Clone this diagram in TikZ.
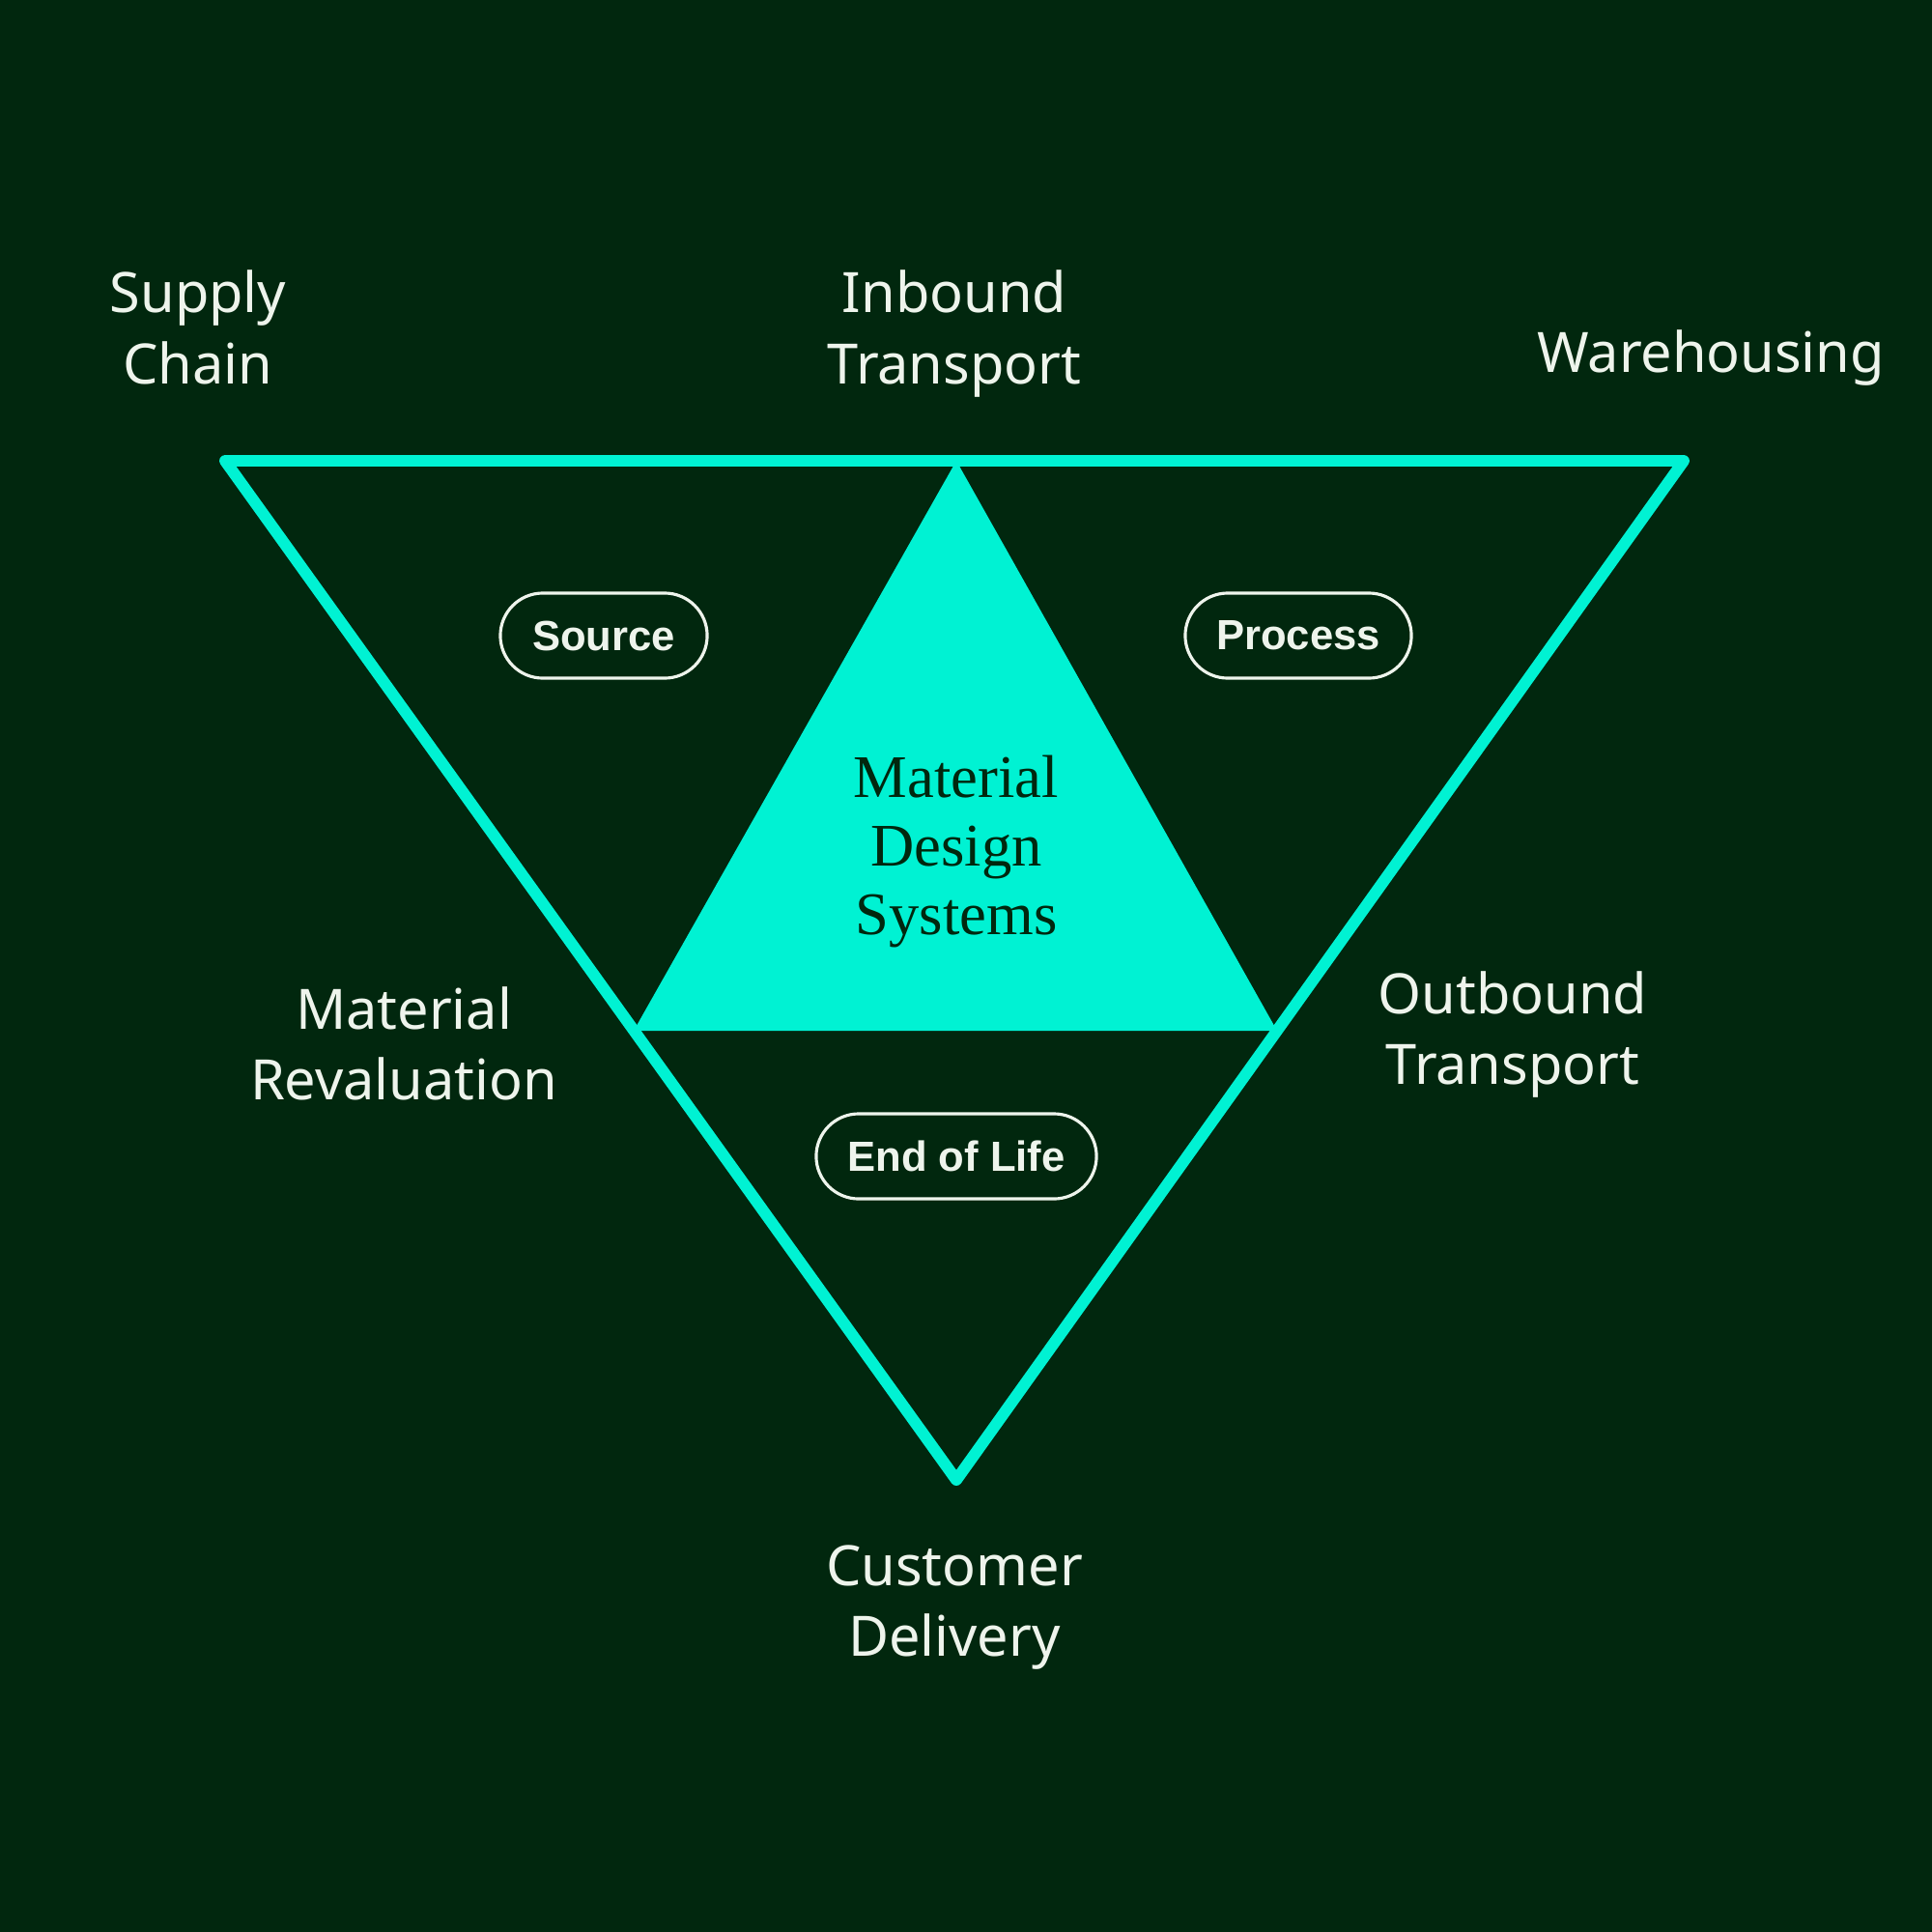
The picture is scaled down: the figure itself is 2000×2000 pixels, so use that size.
\documentclass[tikz,border=0pt]{standalone}
\usepackage{fontspec}
\setmainfont{Liberation Serif}
\newfontfamily\lblfont{Noto Sans}
\newfontfamily\pillfont{Liberation Sans}
\usetikzlibrary{shapes.misc}
\definecolor{bg}{HTML}{01270E}
\definecolor{mint}{HTML}{00F2D3}
\definecolor{txt}{HTML}{EEF4EC}
\tikzset{
  lbl/.style={font=\lblfont\fontsize{16.4}{20}\selectfont, text=txt, anchor=base, inner sep=0pt},
  pill/.style={rounded rectangle, draw=txt, line width=0.9pt, text=txt,
    font=\pillfont\bfseries\fontsize{12.4}{14}\selectfont, minimum height=0.88cm, inner sep=0pt},
  core/.style={font=\fontsize{17.8}{20}\selectfont, text=bg, anchor=base, inner sep=0pt},
  edge/.style={draw=mint, line width=3.4pt, line join=round, line cap=round}
}
\begin{document}
\begin{tikzpicture}[x=0.01cm,y=-0.01cm]
\fill[bg] (0,0) rectangle (2000,2000);
\useasboundingbox (0,0) rectangle (2000,2000);
% vertices
\coordinate (tl) at (233,477);
\coordinate (tr) at (1743,477);
\coordinate (bt) at (990,1532);
\coordinate (ap) at (990,477);
\coordinate (il) at (656,1067);
\coordinate (ir) at (1322,1067);
% inner filled triangle
\fill[mint] (ap) -- (il) -- (ir) -- cycle;
% outer triangle
\path[edge] (tl) -- (tr) -- (bt) -- cycle;
% core text
\node[core] (c1) at (990,825) {Material};
\node[core] (c2) at (990,896) {Design};
\node[core] (c3) at (990,967) {Systems};
% pills
\node[pill, minimum width=2.14cm] (src) at (625,658) {Source};
\node[pill, minimum width=2.34cm] (prc) at (1344,658) {Process};
\node[pill, minimum width=2.90cm] (eol) at (990,1197) {End of Life};
% outer labels
\node[lbl] (sc1) at (205,323) {Supply};
\node[lbl] (sc2) at (205,397) {Chain};
\node[lbl] (ib1) at (988,323) {Inbound};
\node[lbl] (ib2) at (988,397) {Transport};
\node[lbl] (wh) at (1771,385) {Warehousing};
\node[lbl] (mr1) at (418,1065) {Material};
\node[lbl] (mr2) at (418,1138) {Revaluation};
\node[lbl] (ob1) at (1566,1049) {Outbound};
\node[lbl] (ob2) at (1566,1122) {Transport};
\node[lbl] (cd1) at (988,1641) {Customer};
\node[lbl] (cd2) at (988,1714) {Delivery};
\end{tikzpicture}
\end{document}
